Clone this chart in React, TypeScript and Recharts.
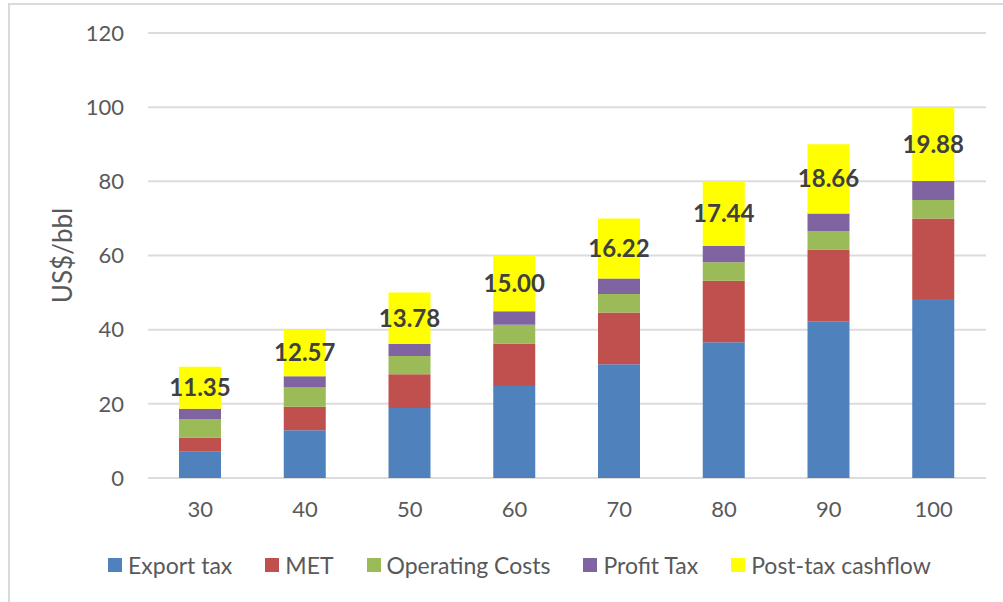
import React from 'react';
import { BarChart, Bar, XAxis, YAxis, CartesianGrid, Legend, LabelList } from 'recharts';

const oilPrices = ['30', '40', '50', '60', '70', '80', '90', '100'];
const exportTax = [7.1, 12.9, 18.9, 24.8, 30.7, 36.6, 42.3, 48.3];
const met = [3.8, 6.3, 9.1, 11.5, 13.9, 16.6, 19.3, 21.7];
const operatingCosts = [5.0, 5.2, 4.9, 5.0, 5.0, 5.0, 5.0, 5.0];
const profitTax = [2.75, 3.03, 3.32, 3.7, 4.18, 4.36, 4.74, 5.12];
const postTaxCashflow = [11.35, 12.57, 13.78, 15.0, 16.22, 17.44, 18.66, 19.88];
const yTicks = [0, 20, 40, 60, 80, 100, 120];

const series = [
  { key: 'exportTax', name: 'Export tax', color: '#4f81bd' },
  { key: 'met', name: 'MET', color: '#c0504d' },
  { key: 'operatingCosts', name: 'Operating Costs', color: '#9bbb59' },
  { key: 'profitTax', name: 'Profit Tax', color: '#8064a2' },
  { key: 'postTaxCashflow', name: 'Post-tax cashflow', color: '#ffff00' },
];

const data = oilPrices.map((price, i) => ({
  price,
  exportTax: exportTax[i],
  met: met[i],
  operatingCosts: operatingCosts[i],
  profitTax: profitTax[i],
  postTaxCashflow: postTaxCashflow[i],
}));

const font = 'Lato, "Open Sans", sans-serif';
const gray = '#595959';

const LegendContent = () => (
  <div style={{ display: 'flex', paddingLeft: 108, height: 30, alignItems: 'center', fontFamily: font, fontSize: 23, color: gray }}>
    {series.map((s) => (
      <div key={s.key} style={{ display: 'flex', alignItems: 'center', marginRight: 33 }}>
        <span style={{ width: 14, height: 14, background: s.color, display: 'inline-block', marginRight: 6 }} />
        <span>{s.name}</span>
      </div>
    ))}
  </div>
);

const YLabel = (props: any) => {
  const vb = props.viewBox || {};
  const x = 62;
  const y = (vb.y || 0) + (vb.height || 0) / 2;
  return (
    <text x={x} y={y} transform={`rotate(-90, ${x}, ${y})`} textAnchor="middle" dominantBaseline="central"
      fontFamily={font} fontSize={26} fill={gray}>
      US$/bbl
    </text>
  );
};

export default function App() {
  return (
    <div style={{ position: 'absolute', left: 0, top: 0, width: 1003, height: 602, background: '#fff' }}>
      <div style={{ position: 'absolute', left: 8, top: 3, right: 0, bottom: 0, borderTop: '2px solid #d9d9d9', borderLeft: '2px solid #d9d9d9' }} />
      <BarChart width={1003} height={602} data={data} margin={{ top: 33, right: 17, bottom: 22, left: 0 }}>
        <CartesianGrid vertical={false} stroke="#dcdcdc" strokeWidth={2} />
        <XAxis dataKey="price" axisLine={false} tickLine={false} tickMargin={17} height={72}
          tick={{ fontFamily: font, fontSize: 22, fill: gray }} />
        <YAxis domain={[0, 120]} ticks={yTicks} axisLine={false} tickLine={false} tickMargin={18} width={148}
          tick={{ fontFamily: font, fontSize: 22, fill: gray }} label={<YLabel />} />
        <Legend verticalAlign="bottom" content={<LegendContent />} wrapperStyle={{ left: 0, width: 1003 }} />
        {series.map((s) => (
          <Bar key={s.key} dataKey={s.key} name={s.name} stackId="a" fill={s.color} barSize={42} isAnimationActive={false}>
            {s.key === 'postTaxCashflow' && (
              <LabelList dataKey="postTaxCashflow" position="center"
                formatter={(v: any) => Number(v).toFixed(2)}
                style={{ fontFamily: font, fontSize: 24, fontWeight: 700, fill: '#404040' }} />
            )}
          </Bar>
        ))}
      </BarChart>
    </div>
  );
}
